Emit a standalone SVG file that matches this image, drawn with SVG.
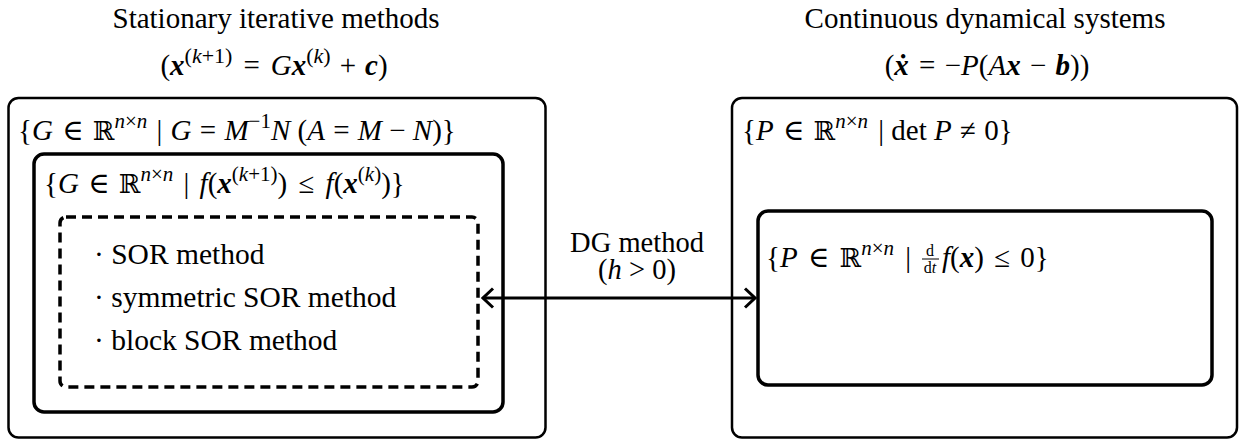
<svg xmlns="http://www.w3.org/2000/svg" width="1244" height="439" viewBox="0 0 1244 439">
<style>
text{font-family:"Liberation Serif","DejaVu Serif",serif;font-size:29px;fill:#000}
.i{font-style:italic}
.b{font-style:italic;font-weight:bold}
.s{font-size:21px}
.s2{font-size:22px}
.f{font-size:16px}
.li{font-size:29.5px}
.dg{font-size:28.5px}
.bb{font-family:"DejaVu Serif","DejaVu Sans",serif;font-size:26px}
.box{fill:none;stroke:#000;stroke-width:2.5}
.inner{fill:none;stroke:#000;stroke-width:3.5}
.dash{fill:none;stroke:#000;stroke-width:3.5;stroke-dasharray:10 6}
.conn{fill:none;stroke:#000;stroke-width:3}
</style>
<defs>
<marker id="ah" viewBox="0 0 14 22" refX="12" refY="11" markerWidth="14" markerHeight="22" markerUnits="userSpaceOnUse" orient="auto-start-reverse">
<path d="M2,1.5 L12,11 L2,20.5" fill="none" stroke="#000" stroke-width="3"/>
</marker>
</defs>

<g id="headers">
<text x="276" y="28" text-anchor="middle">Stationary iterative methods</text>
<text x="274" y="75" text-anchor="middle">(<tspan class="b">x</tspan><tspan class="s2" dy="-12">(<tspan class="i">k</tspan>+1)</tspan><tspan dy="12" dx="11">=</tspan><tspan class="i" dx="11">G</tspan><tspan class="b">x</tspan><tspan class="s2" dy="-12">(<tspan class="i">k</tspan>)</tspan><tspan dy="12" dx="9">+</tspan><tspan class="b" dx="9">c</tspan>)</text>
<text x="985" y="28" text-anchor="middle">Continuous dynamical systems</text>
<text x="987" y="75" text-anchor="middle">(<tspan class="b">ẋ</tspan><tspan dx="3"> = </tspan><tspan dx="2">−</tspan><tspan class="i">P</tspan>(<tspan class="i">A</tspan><tspan class="b">x</tspan><tspan dx="2"> − </tspan><tspan class="b" dx="2">b</tspan>))</text>
</g>

<g id="stationary-set">
<rect class="box" x="8.5" y="98" width="537" height="339.5" rx="10"/>
<text x="18" y="140">{<tspan class="i">G</tspan><tspan dx="2"> ∈ </tspan><tspan class="bb" dx="2">ℝ</tspan><tspan class="s" dy="-12"><tspan class="i">n</tspan>×<tspan class="i">n</tspan></tspan><tspan dy="12" dx="2"> | </tspan><tspan class="i" dx="1">G</tspan><tspan dx="1"> = </tspan><tspan class="i" dx="1">M</tspan><tspan class="s" dy="-12">−1</tspan><tspan class="i" dy="12">N</tspan> (<tspan class="i">A</tspan><tspan dx="1"> = </tspan><tspan class="i" dx="1">M</tspan> − <tspan class="i">N</tspan>)}</text>
</g>

<g id="descent-set">
<rect class="inner" x="34" y="154" width="469" height="258" rx="10"/>
<text x="44" y="193">{<tspan class="i">G</tspan><tspan dx="2"> ∈ </tspan><tspan class="bb" dx="2">ℝ</tspan><tspan class="s" dy="-12"><tspan class="i">n</tspan>×<tspan class="i">n</tspan></tspan><tspan dy="12" dx="3"> | </tspan><tspan class="i" dx="3">f</tspan>(<tspan class="b">x</tspan><tspan class="s" dy="-12">(<tspan class="i">k</tspan>+1)</tspan><tspan dy="12">)</tspan><tspan dx="4"> ≤ </tspan><tspan class="i" dx="4">f</tspan>(<tspan class="b">x</tspan><tspan class="s" dy="-12">(<tspan class="i">k</tspan>)</tspan><tspan dy="12">)}</tspan></text>
</g>

<g id="sor-methods">
<rect class="dash" x="60" y="217" width="418" height="170" rx="6"/>
<text class="li" x="94" y="264">· SOR method</text>
<text class="li" x="94" y="307">· symmetric SOR method</text>
<text class="li" x="94" y="350">· block SOR method</text>
</g>

<g id="dynamical-set">
<rect class="box" x="732" y="98" width="505" height="339.5" rx="10"/>
<text x="742" y="140">{<tspan class="i">P</tspan><tspan dx="2"> ∈ </tspan><tspan class="bb" dx="2">ℝ</tspan><tspan class="s" dy="-12"><tspan class="i">n</tspan>×<tspan class="i">n</tspan></tspan><tspan dy="12" dx="3"> |  det </tspan><tspan class="i">P</tspan><tspan dx="1"> ≠ </tspan><tspan dx="1">0}</tspan></text>
</g>

<g id="lyapunov-set">
<rect class="inner" x="758" y="211" width="454" height="174" rx="10"/>
<text x="766" y="267">{<tspan class="i">P</tspan><tspan dx="3"> ∈ </tspan><tspan class="bb" dx="3">ℝ</tspan><tspan class="s" dy="-12"><tspan class="i">n</tspan>×<tspan class="i">n</tspan></tspan><tspan dy="12" dx="4"> |</tspan></text>
<text class="f" x="930" y="256" text-anchor="middle">d</text>
<line x1="922" y1="259" x2="939" y2="259" stroke="#000" stroke-width="1"/>
<text class="f" x="930" y="273" text-anchor="middle">d<tspan class="i">t</tspan></text>
<text x="942" y="267"><tspan class="i">f</tspan>(<tspan class="b">x</tspan>)<tspan dx="3"> ≤ </tspan><tspan dx="3">0}</tspan></text>
</g>

<g id="connectors">
<line class="conn" x1="483" y1="298" x2="755" y2="298" marker-start="url(#ah)" marker-end="url(#ah)"/>
<text class="dg" x="637" y="252" text-anchor="middle">DG method<tspan x="637" dy="27">(<tspan class="i">h</tspan> &gt; 0)</tspan></text>
</g>
</svg>
